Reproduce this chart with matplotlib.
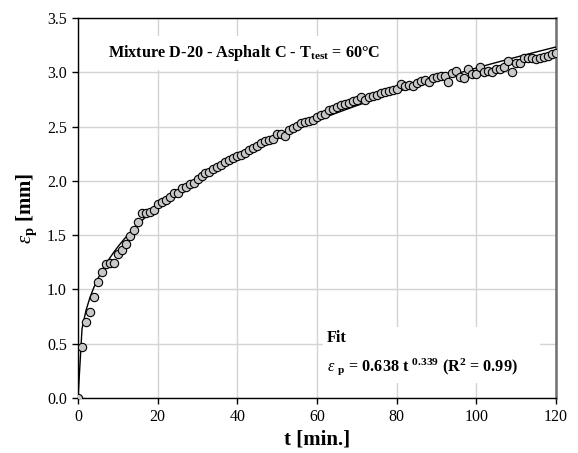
import numpy as np
import matplotlib
matplotlib.use('Agg')
import matplotlib.pyplot as plt
from matplotlib.patches import Rectangle

plt.rcParams['font.family'] = 'Liberation Serif'
plt.rcParams['mathtext.fontset'] = 'custom'
plt.rcParams['mathtext.rm'] = 'Liberation Serif'
plt.rcParams['mathtext.it'] = 'Liberation Serif:italic'
plt.rcParams['mathtext.bf'] = 'Liberation Serif:bold'

# measured permanent deformation, one reading per minute
t_min = list(range(0, 121))
eps_p = [0.0, 0.47, 0.70, 0.79, 0.93, 1.065, 1.16, 1.23, 1.24, 1.245,
         1.33, 1.36, 1.415, 1.495, 1.545, 1.62, 1.705, 1.705, 1.715, 1.73,
         1.79, 1.81, 1.82, 1.85, 1.885, 1.885, 1.93, 1.945, 1.97, 1.985,
         2.02, 2.045, 2.075, 2.085, 2.105, 2.13, 2.145, 2.17, 2.195, 2.21,
         2.225, 2.24, 2.255, 2.285, 2.30, 2.32, 2.35, 2.37, 2.375, 2.39,
         2.43, 2.43, 2.41, 2.47, 2.49, 2.505, 2.53, 2.545, 2.55, 2.565,
         2.59, 2.605, 2.62, 2.65, 2.66, 2.685, 2.70, 2.705, 2.72, 2.735,
         2.745, 2.775, 2.745, 2.775, 2.785, 2.79, 2.805, 2.82, 2.83, 2.835,
         2.845, 2.89, 2.875, 2.88, 2.875, 2.90, 2.92, 2.925, 2.915, 2.945,
         2.96, 2.965, 2.965, 2.915, 2.99, 3.01, 2.96, 2.945, 3.03, 2.985,
         2.98, 3.045, 3.005, 3.015, 3.005, 3.03, 3.035, 3.045, 3.10, 3.00,
         3.09, 3.09, 3.13, 3.135, 3.135, 3.12, 3.13, 3.145, 3.15, 3.165,
         3.175]

# power-law fit given on the chart: eps = a * t^b
fit_a = 0.638
fit_b = 0.339

fig = plt.figure(figsize=(5.78, 4.53), dpi=100)
ax = fig.add_axes([0.135, 0.1214, 0.827, 0.8388])

t_fit = np.array(t_min, dtype=float)
ax.plot(t_fit, fit_a * t_fit ** fit_b, color='black', lw=1.0, zorder=3)
ax.plot(t_min, eps_p, 'o', ms=6, mfc='#c8c8c8', mec='black', mew=0.8, zorder=4)

ax.set_xlim(0, 120)
ax.set_ylim(0, 3.5)
ax.set_xticks(range(0, 121, 20))
ax.set_yticks(np.arange(0, 3.51, 0.5))
ax.yaxis.set_major_formatter(matplotlib.ticker.FormatStrFormatter('%.1f'))
ax.grid(True, color='#d4d4d4', lw=1.0)
ax.set_axisbelow(True)
ax.tick_params(direction='out', length=4, width=1, labelsize=11.5, colors='black', pad=4)
for s in ['left', 'bottom', 'top']:
    ax.spines[s].set_linewidth(1.0)
ax.spines['right'].set_color('#707070')
ax.spines['right'].set_linewidth(1.8)

ax.set_xlabel('t [min.]', fontsize=15, fontweight='bold', labelpad=3)
ax.set_ylabel(r'$\varepsilon_{\mathbf{p}}$ [mm]', fontsize=15, fontweight='bold', labelpad=6)

ax.text(7.5, 3.18, r'Mixture D-20 - Asphalt C - T$_{\mathbf{test}}$ = 60°C',
        fontsize=11.7, fontweight='bold', va='center', ha='left',
        bbox=dict(facecolor='white', edgecolor='none', pad=5), zorder=5)

# white panel behind the fit note (hides the grid there)
ax.add_patch(Rectangle((61.5, 0.14), 54.5, 0.515, facecolor='white',
                       edgecolor='none', zorder=2))
ax.text(62.5, 0.55, 'Fit', fontsize=11.7, fontweight='bold', va='center', ha='left', zorder=5)
ax.text(62.5, 0.29,
        r'$\varepsilon$ $_{\mathbf{p}}$ = 0.638 t $^{\mathbf{0.339}}$ (R$^{\mathbf{2}}$ = 0.99)',
        fontsize=11.7, fontweight='bold', va='center', ha='left', zorder=5)

fig.savefig('out.png', dpi=100)
